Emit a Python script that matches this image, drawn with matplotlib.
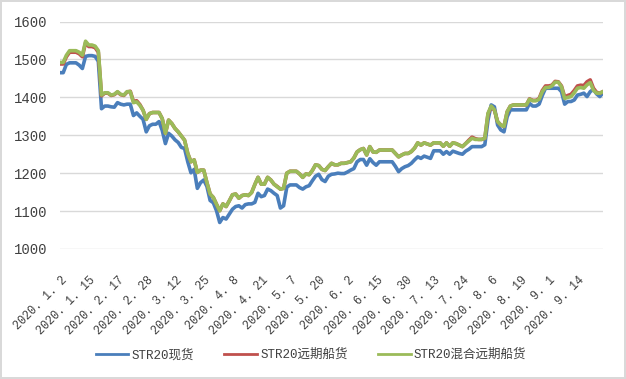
import matplotlib
matplotlib.use("Agg")
import matplotlib.pyplot as plt
import matplotlib.transforms as mtransforms

# ---------------- data ----------------
spot = [
    1465, 1465, 1487, 1491, 1491, 1491, 1485, 1476, 1508, 1510,
    1510, 1508, 1495, 1370, 1377, 1377, 1375, 1374, 1386, 1382,
    1380, 1382, 1382, 1352, 1359, 1350, 1342, 1309, 1325, 1329,
    1329, 1336, 1313, 1278, 1305, 1298, 1288, 1281, 1268, 1265,
    1230, 1201, 1210, 1160, 1175, 1182, 1165, 1128, 1122, 1101,
    1070, 1083, 1079, 1092, 1105, 1112, 1114, 1108, 1117, 1119,
    1119, 1123, 1147, 1138, 1141, 1158, 1154, 1147, 1141, 1108,
    1114, 1163, 1169, 1169, 1169, 1162, 1158, 1164, 1167, 1180,
    1192, 1197, 1183, 1178, 1192, 1197, 1198, 1200, 1199, 1199,
    1203, 1208, 1212, 1230, 1236, 1236, 1221, 1238, 1228, 1221,
    1230, 1230, 1230, 1230, 1230, 1218, 1204, 1212, 1217, 1220,
    1226, 1235, 1243, 1239, 1245, 1242, 1239, 1259, 1259, 1259,
    1250, 1257, 1250, 1258, 1255, 1252, 1250, 1258, 1263, 1270,
    1270, 1270, 1270, 1275, 1340, 1380, 1375, 1327, 1314, 1309,
    1349, 1367, 1367, 1367, 1367, 1367, 1367, 1384, 1377, 1377,
    1382, 1405, 1424, 1424, 1424, 1424, 1424, 1415, 1382, 1389,
    1389, 1393, 1406, 1408, 1411, 1402, 1415, 1421, 1409, 1402,
    1412,
]

mixed_forward = [
    1492, 1492, 1511, 1523, 1523, 1523, 1519, 1511, 1548, 1538,
    1538, 1535, 1523, 1406, 1412, 1412, 1406, 1408, 1415, 1408,
    1406, 1415, 1415, 1386, 1388, 1379, 1366, 1342, 1357, 1360,
    1360, 1360, 1344, 1305, 1340, 1331, 1318, 1309, 1298, 1287,
    1252, 1230, 1235, 1202, 1208, 1208, 1175, 1145, 1136, 1118,
    1101, 1119, 1112, 1127, 1143, 1145, 1134, 1141, 1143, 1141,
    1149, 1170, 1189, 1171, 1171, 1189, 1182, 1171, 1164, 1158,
    1160, 1200, 1205, 1205, 1205, 1198, 1189, 1198, 1196, 1207,
    1222, 1220, 1210, 1207, 1217, 1226, 1222, 1222, 1226, 1226,
    1228, 1230, 1240, 1256, 1262, 1265, 1248, 1270, 1256, 1255,
    1261, 1261, 1261, 1261, 1261, 1252, 1243, 1248, 1252, 1252,
    1257, 1266, 1280, 1274, 1280, 1277, 1274, 1280, 1280, 1280,
    1271, 1280, 1271, 1280, 1278, 1274, 1270, 1278, 1285, 1292,
    1289, 1289, 1289, 1292, 1358, 1377, 1367, 1336, 1327, 1323,
    1362, 1377, 1380, 1380, 1380, 1380, 1380, 1395, 1391, 1391,
    1395, 1415, 1426, 1426, 1430, 1440, 1440, 1428, 1397, 1400,
    1402, 1412, 1424, 1426, 1424, 1433, 1439, 1419, 1411, 1411,
    1415,
]

forward = [
    1488, 1488, 1507, 1519, 1519, 1519, 1515, 1507, 1544, 1534,
    1534, 1531, 1519, 1404, 1411, 1411, 1405, 1407, 1414, 1407,
    1405, 1414, 1416, 1389, 1391, 1381, 1366, 1342, 1357, 1360,
    1360, 1360, 1344, 1305, 1340, 1331, 1318, 1309, 1298, 1287,
    1252, 1230, 1235, 1202, 1208, 1208, 1175, 1145, 1136, 1118,
    1101, 1119, 1112, 1127, 1143, 1145, 1134, 1141, 1143, 1141,
    1149, 1170, 1189, 1171, 1171, 1189, 1182, 1171, 1165, 1158,
    1160, 1200, 1205, 1205, 1205, 1198, 1189, 1198, 1196, 1207,
    1222, 1220, 1210, 1207, 1217, 1226, 1222, 1222, 1226, 1226,
    1228, 1230, 1240, 1256, 1262, 1265, 1248, 1270, 1256, 1255,
    1261, 1261, 1261, 1261, 1261, 1252, 1243, 1248, 1252, 1252,
    1257, 1266, 1280, 1274, 1280, 1277, 1274, 1280, 1280, 1280,
    1271, 1280, 1271, 1280, 1278, 1274, 1270, 1278, 1287, 1295,
    1291, 1289, 1289, 1292, 1356, 1375, 1366, 1336, 1327, 1323,
    1362, 1377, 1380, 1380, 1380, 1380, 1380, 1396, 1392, 1392,
    1397, 1418, 1430, 1430, 1432, 1442, 1441, 1430, 1401, 1405,
    1408, 1418, 1430, 1432, 1431, 1441, 1446, 1424, 1413, 1411,
    1415,
]

tick_labels = [
    "2020. 1. 2", "2020. 1. 15", "2020. 2. 17", "2020. 2. 28", "2020. 3. 12",
    "2020. 3. 25", "2020. 4. 8", "2020. 4. 21", "2020. 5. 7", "2020. 5. 20",
    "2020. 6. 2", "2020. 6. 15", "2020. 6. 30", "2020. 7. 13", "2020. 7. 24",
    "2020. 8. 6", "2020. 8. 19", "2020. 9. 1", "2020. 9. 14",
]
label_step = 9
series_names = ["STR20现货", "STR20远期船货", "STR20混合远期船货"]
y_ticks = [1000, 1100, 1200, 1300, 1400, 1500, 1600]

# ---------------- figure ----------------
FONT = ["Liberation Mono", "Noto Sans CJK SC", "DejaVu Sans"]
plt.rcParams["font.family"] = FONT

fig = plt.figure(figsize=(6.26, 3.79), dpi=100)
fig.patch.set_facecolor("white")
fig.patch.set_edgecolor("#D9D9D9")
fig.patch.set_linewidth(1.5)

ax = fig.add_axes([60 / 626, 130 / 379, 543 / 626, 227.5 / 379])
x = list(range(len(spot)))

colors = ["#4A7EBB", "#C0504D", "#9BBB59"]
LW = 2.6
ax.plot(x, spot, color=colors[0], lw=LW, label=series_names[0], solid_joinstyle="round")
ax.plot(x, forward, color=colors[1], lw=LW, label=series_names[1], solid_joinstyle="round")
ax.plot(x, mixed_forward, color=colors[2], lw=LW, label=series_names[2], solid_joinstyle="round")

ax.set_xlim(0, len(spot) - 1)
ax.set_ylim(1000, 1600)
ax.set_yticks(y_ticks)
ax.set_yticklabels([str(v) for v in y_ticks], fontsize=10, color="#404040")
ax.yaxis.grid(True, color="#D9D9D9", lw=1)
ax.set_axisbelow(True)
for s in ax.spines.values():
    s.set_visible(False)
ax.tick_params(axis="y", length=0, pad=9)

ticks = [i * label_step for i in range(len(tick_labels))]
ax.set_xticks(ticks)
ax.set_xticklabels(tick_labels, rotation=45, ha="right", va="center",
                   rotation_mode="anchor", fontsize=8.5, color="#404040")
ax.tick_params(axis="x", length=0, pad=21)
offset = mtransforms.ScaledTranslation(5 / 100, 0, fig.dpi_scale_trans)
for lbl in ax.get_xticklabels():
    lbl.set_transform(lbl.get_transform() + offset)

leg = fig.legend(loc="center", bbox_to_anchor=(311 / 626, 1 - 355 / 379), ncol=3,
                 frameon=False, fontsize=9, handlelength=2.6, handletextpad=0.25,
                 columnspacing=2.45)
for t in leg.get_texts():
    t.set_color("#404040")
for h in leg.get_lines():
    h.set_linewidth(2.0)

fig.savefig("out.png", dpi=100, facecolor=fig.get_facecolor(), edgecolor=fig.get_edgecolor())
